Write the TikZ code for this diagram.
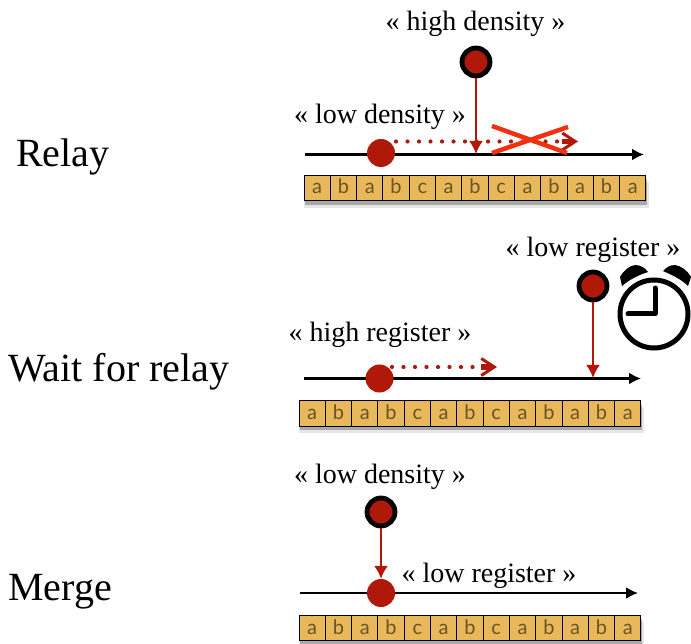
\documentclass[tikz,border=0pt]{standalone}
\usepackage{fontspec}
\setmainfont{Liberation Serif}
\newfontfamily\cellfont{Lato}
\usetikzlibrary{arrows.meta,positioning,shadows}
\definecolor{dotred}{RGB}{176,24,10}
\definecolor{crossred}{RGB}{240,48,16}
\definecolor{cellorange}{RGB}{232,184,90}
\definecolor{letterbrown}{RGB}{105,85,40}
\tikzset{
	rowlabel/.style={anchor=west, inner sep=0pt, font=\fontsize{40}{40}\selectfont},
	statelabel/.style={inner sep=0pt, font=\fontsize{28}{28}\selectfont},
	bigdot/.style={circle, fill=dotred, minimum size=28pt, inner sep=0pt},
	ringdot/.style={circle, fill=dotred, draw=black, line width=4.8pt, minimum size=28pt, inner sep=0pt},
	axisline/.style={line width=2.2pt, -{Latex[length=12pt,width=12pt]}},
	jumpline/.style={dotred, line width=2pt, -{Latex[length=13pt,width=14pt]}},
	slideline/.style={dotred, line width=4.2pt, line cap=round, dash pattern=on 0pt off 11.5pt, -{Square[length=10pt,width=3pt,sep=-11pt] Straight Barb[length=13pt,width=17pt,line width=3pt]}},
	crossline/.style={crossred, line width=4.5pt},
	cellbox/.style={draw=black, line width=0.9pt, fill=cellorange, minimum width=26.3pt, minimum height=25.5pt, inner sep=0pt, text height=12pt, text depth=0pt, text=letterbrown, font=\cellfont\fontsize{20}{20}\selectfont},
	tapeback/.style={fill=cellorange, minimum width=342pt, minimum height=25.5pt, inner sep=0pt,
		drop shadow={shadow xshift=1pt, shadow yshift=-7pt, shadow scale=1.01, opacity=0.2},
		drop shadow={shadow xshift=1pt, shadow yshift=-4pt, opacity=0.6}}
}
% one row of letter cells, #1 = name, #2 = left x, #3 = middle y
\newcommand{\lettertape}[3]{
	\node[tapeback, anchor=west] (#1) at (#2,#3) {};
	\foreach \letter [count=\n] in {a,b,a,b,c,a,b,c,a,b,a,b,a}
		\node[cellbox] (#1-\n) at ({#2+(\n-0.5)*26.3},#3) {\letter};
}
\begin{document}
\begin{tikzpicture}[x=1pt,y=-1pt]
	\useasboundingbox (0,0) rectangle (691,644);

	% Relay
	\node[rowlabel] (relay) at (16,157) {Relay};
	\coordinate (axisAstart) at (305,154.5);
	\coordinate (axisAend) at (644,154.5);
	\coordinate (hitA) at (476,154);
	\coordinate (slideAstart) at (396,141.5);
	\coordinate (slideAend) at (578,141.5);
	\coordinate (crossAa) at (492,126);
	\coordinate (crossAb) at (567,153);
	\coordinate (crossAc) at (568,127);
	\coordinate (crossAd) at (492,153);
	\draw[axisline] (axisAstart) -- (axisAend);
	\draw[slideline] (slideAstart) -- (slideAend);
	\node[ringdot] (highA) at (476,62) {};
	\node[bigdot] (lowA) at (381,153) {};
	\draw[jumpline] (highA) -- (hitA);
	\draw[crossline] (crossAa) -- (crossAb);
	\draw[crossline] (crossAc) -- (crossAd);
	\node[statelabel] (highAlabel) at (475.5,24) {« high density »};
	\node[statelabel] (lowAlabel) at (380,117) {« low density »};
	\lettertape{tapeA}{304}{188}

	% Wait for relay
	\node[rowlabel] (wait) at (8,372) {Wait for relay};
	\coordinate (axisBstart) at (304,378.5);
	\coordinate (axisBend) at (641,378.5);
	\coordinate (hitB) at (593,378);
	\coordinate (slideBstart) at (392,367);
	\coordinate (slideBend) at (497,367);
	\draw[axisline] (axisBstart) -- (axisBend);
	\draw[slideline] (slideBstart) -- (slideBend);
	\node[ringdot] (highB) at (593,286) {};
	\node[bigdot] (lowB) at (379.5,378.5) {};
	\draw[jumpline] (highB) -- (hitB);
	\node[statelabel] (highBlabel) at (380,335) {« high register »};
	\node[statelabel] (lowBlabel) at (593,250) {« low register »};
	\lettertape{tapeB}{299}{413.5}

	% alarm clock
	\draw[line width=5pt] (654,314) circle (34);
	\draw[line width=5pt, line cap=round, line join=round] (655,288) -- (655,314) -- (628,314);
	\fill (620,277) .. controls (624,270) and (629,266) .. (635,265) .. controls (641,265) and (645,268) .. (648,272) .. controls (639,275) and (630,279) .. (622,286) -- cycle;
	\fill (691,277) .. controls (687,270) and (681,266) .. (675,265) .. controls (669,265) and (666,268) .. (663,271) .. controls (672,275) and (681,279) .. (688,286) -- cycle;

	% Merge
	\node[rowlabel] (merge) at (8,592) {Merge};
	\coordinate (axisCstart) at (300,593);
	\coordinate (axisCend) at (638,593);
	\draw[axisline] (axisCstart) -- (axisCend);
	\node[ringdot] (highC) at (381,512) {};
	\node[bigdot] (lowC) at (381,593) {};
	\draw[jumpline] (highC) -- (lowC);
	\node[statelabel] (highClabel) at (380,477) {« low density »};
	\node[statelabel] (lowClabel) at (489,576) {« low register »};
	\lettertape{tapeC}{299}{628}
\end{tikzpicture}
\end{document}
